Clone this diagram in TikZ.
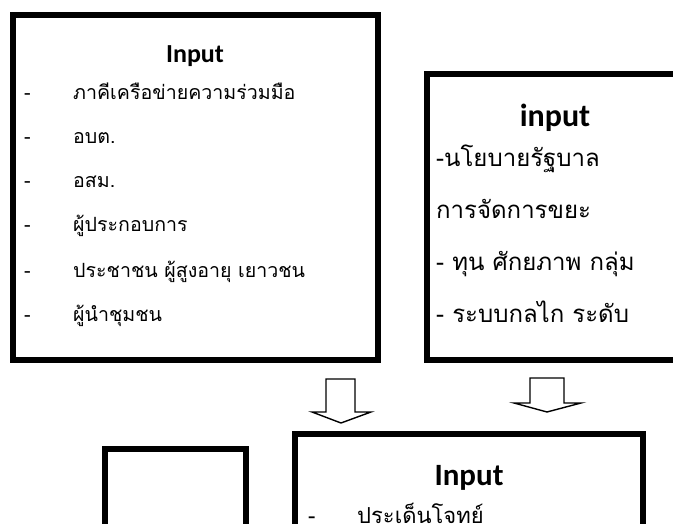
\documentclass[tikz,border=0pt]{standalone}
\usepackage{fontspec}
\setmainfont{Carlito}
\newfontfamily\thai[Script=Thai]{Loma}
\newfontfamily\lat{Carlito}
\tikzset{
  frame/.style={line width=6pt, draw=black, line join=miter},
  blockarrow/.style={line width=1.4pt, draw=black, fill=white, line join=miter},
  ttl/.style={font=\lat\bfseries\fontsize{26}{26}\selectfont, anchor=base, inner sep=0pt},
  ttlb/.style={font=\lat\bfseries\fontsize{32}{32}\selectfont, anchor=base, inner sep=0pt},
  ttlc/.style={font=\lat\bfseries\fontsize{31}{31}\selectfont, anchor=base, inner sep=0pt},
  itm/.style={font=\thai\fontsize{19.6}{20}\selectfont, anchor=base west, inner sep=0pt},
  itmb/.style={font=\thai\fontsize{24}{24}\selectfont, anchor=base west, inner sep=0pt},
  itmc/.style={font=\thai\fontsize{22}{22}\selectfont, anchor=base west, inner sep=0pt}
}
\begin{document}
\begin{tikzpicture}[x=1pt,y=-1pt]
\useasboundingbox (0,0) rectangle (673,524);
\clip (0,0) rectangle (673,524);
% box 1
\draw[frame] (12.5,15) rectangle (378,360);
\node[ttl] (t1) at (195,63) {Input};
\foreach \yy/\txt [count=\i] in {100/ภาคีเครือข่ายความร่วมมือ,144/อบต.,188/อสม.,232/ผู้ประกอบการ,278/ประชาชน ผู้สูงอายุ เยาวชน,322/ผู้นำชุมชน}{
  \node[itm] (d\i) at (24,\yy) {-};
  \node[itm] (a\i) at (73,\yy) {\txt};
}
% box 2
\draw[frame] (690,74) -- (427,74) -- (427,360) -- (690,360);
\node[ttlb] (t2) at (555,127) {input};
\node[itmb] (b1) at (436,167) {-นโยบายรัฐบาล};
\node[itmb] (b2) at (436,219) {การจัดการขยะ};
\node[itmb] (b3) at (436,271) {- ทุน ศักยภาพ กลุ่ม};
\node[itmb] (b4) at (436,323) {- ระบบกลไก ระดับ};
% arrows
\draw[blockarrow] (326,379) -- (355,379) -- (355,412) -- (371,412) -- (341,423) -- (312,412) -- (326,412) -- cycle;
\draw[blockarrow] (530,378) -- (564,378) -- (564,403) -- (581,403) -- (547,412) -- (514,403) -- (530,403) -- cycle;
% bottom boxes
\draw[frame] (105,540) -- (105,449) -- (246,449) -- (246,540);
\draw[frame] (295,540) -- (295,434) -- (643,434) -- (643,540);
\node[ttlc] (t3) at (469,485) {Input};
\node[itmc] (c0) at (308,523) {-};
\node[itmc] (c1) at (357,523) {ประเด็นโจทย์};
\end{tikzpicture}
\end{document}
